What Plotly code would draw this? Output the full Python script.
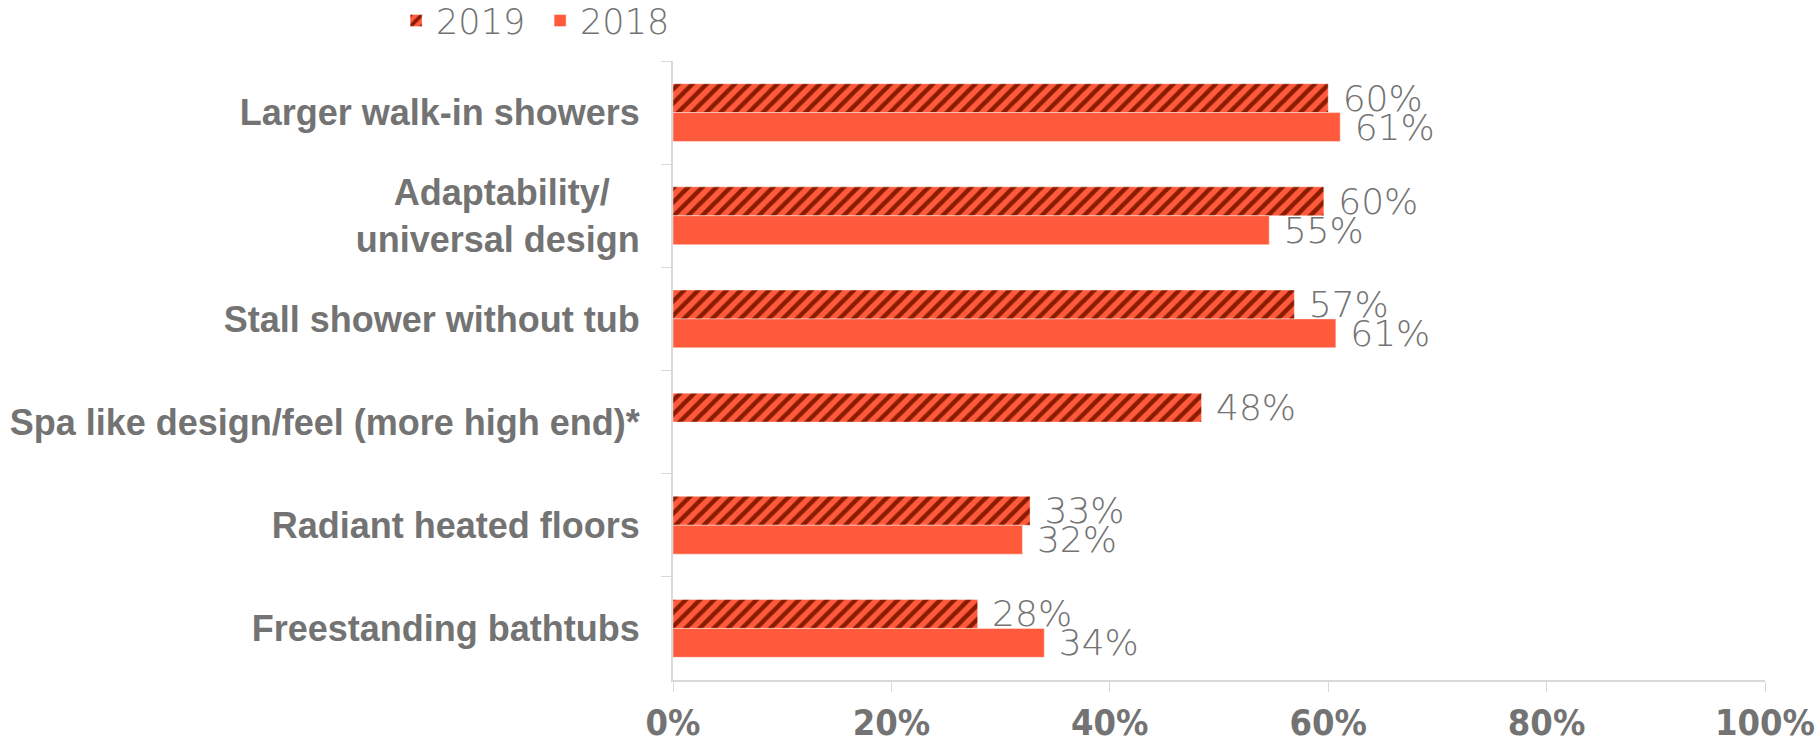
import plotly.graph_objects as go

categories = [
    "Larger walk-in showers",
    "Adaptability/\u00a0\u00a0\u00a0<br>universal design",
    "Stall shower without tub",
    "Spa like design/feel (more high end)*",
    "Radiant heated floors",
    "Freestanding bathtubs",
]
values_2019 = [60.0, 59.6, 56.9, 48.4, 32.7, 27.9]
values_2018 = [61.1, 54.6, 60.7, None, 32.0, 34.0]
x_ticks = [0, 20, 40, 60, 80, 100]

CORAL = "#FF5A3C"
DARK = "#8A1B00"
GRAY = "#737373"
LINE = "#D9D9D9"


def labels(vals):
    return ["" if v is None else " %d%%" % round(v) for v in vals]


light_font = "'DejaVu Sans', Lato, sans-serif"
label_font = dict(family=light_font, size=36, color=GRAY, weight=200)

fig = go.Figure()
fig.add_trace(go.Bar(
    name="2019", y=categories, x=values_2019, orientation="h",
    marker=dict(color=CORAL, line=dict(width=0.6, color="rgba(255,255,255,0.7)"),
                pattern=dict(shape="/", fgcolor=DARK, bgcolor=CORAL, size=10,
                             solidity=0.45, fgopacity=1)),
    text=labels(values_2019), textposition="outside", textfont=label_font,
    cliponaxis=False, constraintext="none", hoverinfo="skip",
))
fig.add_trace(go.Bar(
    name="2018", y=categories, x=values_2018, orientation="h",
    marker=dict(color=CORAL, line=dict(width=0.6, color="rgba(255,255,255,0.7)")),
    text=labels(values_2018), textposition="outside", textfont=label_font,
    cliponaxis=False, constraintext="none", hoverinfo="skip",
))

fig.update_layout(
    width=1817, height=744,
    margin=dict(l=673, r=52, t=61, b=64, autoexpand=False),
    paper_bgcolor="white", plot_bgcolor="white",
    barmode="group", bargap=0.44, bargroupgap=0,
    showlegend=True,
    legend=dict(orientation="h", xref="container", yref="container",
                x=0.218, y=0.972, xanchor="left", yanchor="middle",
                font=dict(family=light_font, size=35, color=GRAY, weight=200),
                itemwidth=30, entrywidth=99, entrywidthmode="pixels",
                traceorder="normal", bgcolor="rgba(0,0,0,0)"),
    xaxis=dict(range=[0, 100], tickvals=x_ticks, ticktext=["%d%%" % t for t in x_ticks],
               showgrid=False, zeroline=False, showline=True, linecolor=LINE, linewidth=2,
               ticks="outside", ticklen=10, tickcolor=LINE, tickwidth=1,
               ticklabelstandoff=0, automargin=False,
               tickfont=dict(family="'DejaVu Sans Condensed', 'Liberation Sans', sans-serif",
                             size=36, color=GRAY, weight="bold")),
    yaxis=dict(autorange="reversed", showgrid=False, zeroline=False, showline=True,
               linecolor=LINE, linewidth=2, ticks="outside", ticklen=10, tickcolor=LINE,
               tickwidth=1, tickson="boundaries", ticklabelstandoff=24, automargin=False,
               tickfont=dict(family="'Liberation Sans', Arial, sans-serif", size=36, color=GRAY, weight="bold")),
)

fig.write_html("out.html")
